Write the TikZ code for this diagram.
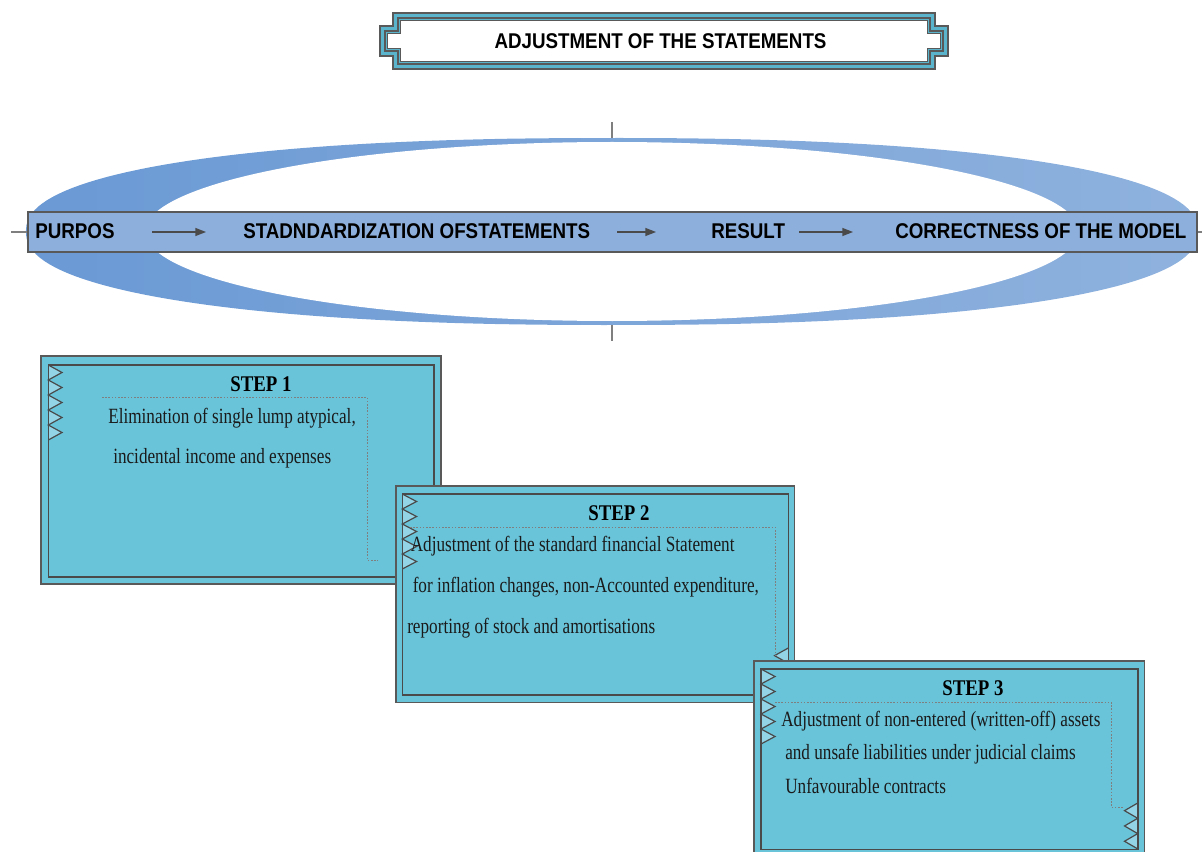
\documentclass[tikz,border=0pt]{standalone}
\usepackage{fontspec}
\usetikzlibrary{arrows.meta}
\newfontfamily\barfont{Liberation Sans}[FakeStretch=0.88]
\newfontfamily\stepfont{Liberation Serif}[FakeStretch=0.79]
\newfontfamily\headfont{Liberation Serif}[FakeStretch=0.84]
\definecolor{ringL}{HTML}{6A99D4}
\definecolor{ringR}{HTML}{8FB2DE}
\definecolor{barblue}{HTML}{8DAFDC}
\definecolor{stepcyan}{HTML}{69C4DA}
\definecolor{teethcol}{HTML}{93D5E7}
\definecolor{frameteal}{HTML}{5AB4CB}
\definecolor{edgegray}{HTML}{595959}
\definecolor{darkedge}{HTML}{4A4A4A}
\definecolor{ticcol}{HTML}{7F7F7F}
\definecolor{txtcol}{HTML}{1A1A1A}
\begin{document}
\begin{tikzpicture}[x=0.75pt,y=-0.75pt,
  bartext/.style={font=\barfont\bfseries\fontsize{16}{19}\selectfont, inner sep=0pt, anchor=base west},
  titletext/.style={font=\barfont\bfseries\fontsize{16}{19}\selectfont, inner sep=0pt},
  stephead/.style={font=\headfont\bfseries\fontsize{16.8}{20}\selectfont, inner sep=0pt, anchor=base},
  steptext/.style={font=\stepfont\fontsize{16.3}{19}\selectfont, text=txtcol, inner sep=0pt, anchor=base west},
  stepouter/.style={draw=edgegray, fill=stepcyan, line width=0.8pt},
  stepinner/.style={draw=darkedge, line width=1.2pt},
  teethline/.style={draw=darkedge, fill=teethcol, line width=0.9pt, line join=miter},
  dotline/.style={draw=ticcol, line width=0.6pt, dash pattern=on 1.2pt off 1.2pt},
  ticline/.style={draw=ticcol, line width=0.9pt},
  flowarrow/.style={draw=darkedge, line width=1pt, -{Triangle[length=8pt,width=6pt]}},
  framestyle/.style={draw=edgegray, line width=0.8pt}
]
\useasboundingbox (0,0) rectangle (1202,852);
\clip (0,0) rectangle (1202,852);

% ---- title frame ----
\path[framestyle, fill=frameteal] (393,13) -- (935,13) -- (935,26) -- (948,26) -- (948,56) -- (935,56) -- (935,69) -- (393,69) -- (393,56) -- (380,56) -- (380,26) -- (393,26) -- cycle;
\path[framestyle] (398,18) -- (930,18) -- (930,31) -- (943,31) -- (943,51) -- (930,51) -- (930,64) -- (398,64) -- (398,51) -- (385,51) -- (385,31) -- (398,31) -- cycle;
\path[framestyle, fill=white] (400.5,20.5) -- (927.5,20.5) -- (927.5,33.5) -- (940.5,33.5) -- (940.5,48.5) -- (927.5,48.5) -- (927.5,61.5) -- (400.5,61.5) -- (400.5,48.5) -- (387.5,48.5) -- (387.5,33.5) -- (400.5,33.5) -- cycle;
\node[titletext] (title) at (660.5,41) {ADJUSTMENT OF THE STATEMENTS};

% ---- ring ----
\shade[left color=ringL, right color=ringR]
  plot[domain=0.5:360.5, samples=181]
  ({612+586*sign(cos(\x))*abs(cos(\x))^0.87},{231.5+93.5*sign(sin(\x))*abs(sin(\x))^0.87}) -- cycle;
\fill[white] plot[domain=0:360, samples=181, smooth] ({612+467*cos(\x)},{231.5+89.5*sin(\x)}) -- cycle;

\coordinate (tt1) at (612,122);
\coordinate (tt2) at (612,138);
\coordinate (tb1) at (612,325);
\coordinate (tb2) at (612,341);
\draw[ticline] (tt1) -- (tt2);
\draw[ticline] (tb1) -- (tb2);

% ---- bar ----
\node[draw=edgegray, fill=barblue, line width=0.9pt, minimum width=876.75pt, minimum height=30pt, inner sep=0pt] (bar) at (612.5,232) {};
\coordinate (lend) at (11,232);
\coordinate (rend) at (1202,232);
\draw[ticline] (lend) -- (bar.west);
\draw[ticline] (bar.east) -- (rend);

\node[bartext] (purpos) at (35,238.5) {PURPOS};
\node[bartext] (stand) at (243,238.5) {STADNDARDIZATION OFSTATEMENTS};
\node[bartext] (result) at (711,238.5) {RESULT};
\node[bartext] (correct) at (895,238.5) {CORRECTNESS OF THE MODEL};

\coordinate (a1s) at (152,232); \coordinate (a1e) at (206,232);
\coordinate (a2s) at (617,232); \coordinate (a2e) at (656,232);
\coordinate (a3s) at (799,232); \coordinate (a3e) at (853,232);
\draw[flowarrow] (a1s) -- (a1e);
\draw[flowarrow] (a2s) -- (a2e);
\draw[flowarrow] (a3s) -- (a3e);

% ---- STEP 1 ----
\path[stepouter] (41,356) rectangle (441,584);
\path[teethline] (48.3,365) \foreach \i in {0,...,4} { -- (62,{365+15*\i+7.5}) -- (48.3,{365+15*\i+15}) };
\path[stepinner] (48.3,364.7) rectangle (434,576.7);
\path[dotline] (102,397) -- (367,397) -- (367,560) -- (378,560);
\node[stephead] (s1h) at (261,391.5) {STEP 1};
\node[steptext] (s1a) at (108,423) {Elimination of single lump atypical,};
\node[steptext] (s1b) at (113,463) {incidental income and expenses};

% ---- STEP 2 ----
\path[stepouter] (396,486) rectangle (794.5,702.7);
\path[teethline] (402.3,494) \foreach \i in {0,...,4} { -- (416.5,{494+15*\i+7.5}) -- (402.3,{494+15*\i+15}) };
\path[teethline] (788.3,648) \foreach \i in {0,...,2} { -- (774.5,{648+15.3*\i+7.65}) -- (788.3,{648+15.3*\i+15.3}) };
\path[stepinner] (402.3,494) rectangle (788.3,694.7);
\path[dotline] (410,527) -- (775,527) -- (775,655);
\node[stephead] (s2h) at (619,520) {STEP 2};
\node[steptext] (s2a) at (410.5,551) {Adjustment of the standard financial Statement};
\node[steptext] (s2b) at (412.5,592) {for inflation changes, non-Accounted expenditure,};
\node[steptext] (s2c) at (407,633) {reporting of stock and amortisations};

% ---- STEP 3 ----
\path[stepouter] (754,661) rectangle (1144.3,860);
\path[teethline] (761,669) \foreach \i in {0,...,4} { -- (775,{669+15*\i+7.5}) -- (761,{669+15*\i+15}) };
\path[teethline] (1137.7,803) \foreach \i in {0,...,2} { -- (1124.5,{803+15.3*\i+7.65}) -- (1137.7,{803+15.3*\i+15.3}) };
\path[stepinner] (761,669) rectangle (1137.7,849.5);
\path[dotline] (775,702) -- (1111,702) -- (1111,807) -- (1124,807);
\node[stephead] (s3h) at (973,695.5) {STEP 3};
\node[steptext] (s3a) at (781,726) {Adjustment of non-entered (written-off) assets};
\node[steptext] (s3b) at (785,759) {and unsafe liabilities under judicial claims};
\node[steptext] (s3c) at (785,793) {Unfavourable contracts};
\end{tikzpicture}
\end{document}
